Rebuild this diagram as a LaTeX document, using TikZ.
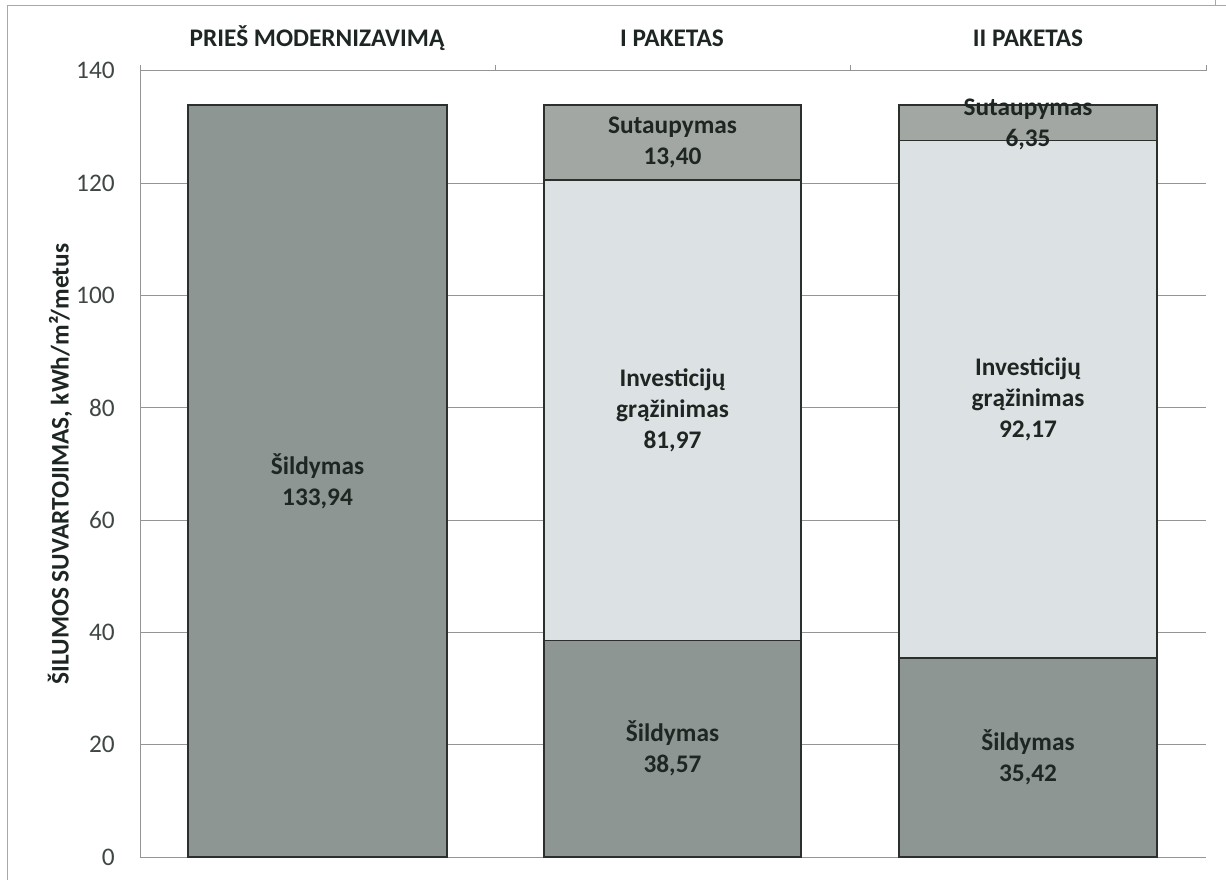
\documentclass[tikz,border=0pt]{standalone}
\usepackage{fontspec}
\setmainfont{Carlito}
\definecolor{heatgray}{HTML}{8E9693}
\definecolor{savegray}{HTML}{A2A7A4}
\definecolor{investgray}{HTML}{DCE1E4}
\definecolor{gridgray}{HTML}{959595}
\definecolor{framegray}{HTML}{A8A8A8}
\definecolor{barline}{HTML}{2B302D}
\definecolor{labelink}{HTML}{1E2622}
\tikzset{
  gridline/.style={draw=gridgray, line width=0.7pt},
  barpart/.style={draw=barline, line width=1pt},
  barlabel/.style={font=\fontsize{18}{22}\selectfont\bfseries, text=labelink, align=center, inner sep=0pt},
  ticklabel/.style={font=\fontsize{18}{22}\selectfont, text=labelink!85, anchor=east, inner sep=0pt},
  header/.style={font=\fontsize{18}{22}\selectfont\bfseries, text=labelink, anchor=base}
}
\begin{document}
\begin{tikzpicture}[x=0.025cm, y=0.025cm]
  \useasboundingbox (0,0) rectangle (1226,880);
  \draw[framegray, line width=0.7pt] (7,0) -- (7,874) -- (1226,874);
  \draw[framegray, line width=0.7pt] (1215,874) -- (1215,880);
  \node[header] (hbefore) at (317,833.5) {PRIEŠ MODERNIZAVIMĄ};
  \node[header] (hfirst) at (672,833.5) {I PAKETAS};
  \node[header] (hsecond) at (1028,833.5) {II PAKETAS};
  \node[barlabel, rotate=90] (ylabel) at (60,416) {ŠILUMOS SUVARTOJIMAS, kWh/m²/metus};
  \begin{scope}[shift={(140,23)}, y=0.14035cm]
    \foreach \v in {0,20,...,140} {
      \draw[gridline] (0,\v) -- (1066,\v);
      \node[ticklabel] (tick\v) at (-25,\v) {\v};
    }
    \draw[gridline] (0,0) -- (0,141.07);
    \foreach \x in {355.3,710.7,1066} \draw[gridline] (\x,140) -- (\x,141.07);
    \draw[barpart, fill=heatgray] (48,0) rectangle (307,133.94);
    \draw[barpart, fill=heatgray] (404,0) rectangle (661,38.57);
    \draw[barpart, fill=investgray] (404,38.57) rectangle (661,120.54);
    \draw[barpart, fill=savegray] (404,120.54) rectangle (661,133.94);
    \draw[barpart, fill=heatgray] (759,0) rectangle (1017,35.42);
    \draw[barpart, fill=investgray] (759,35.42) rectangle (1017,127.59);
    \draw[barpart, fill=savegray] (759,127.59) rectangle (1017,133.94);
    \node[barlabel] (heatbefore) at (177.5,66.97) {Šildymas\\133,94};
    \node[barlabel] (heatfirst) at (532.5,19.29) {Šildymas\\38,57};
    \node[barlabel] (investfirst) at (532.5,79.56) {Investicijų\\grąžinimas\\81,97};
    \node[barlabel] (savefirst) at (532.5,127.24) {Sutaupymas\\13,40};
    \node[barlabel] (heatsecond) at (888,17.71) {Šildymas\\35,42};
    \node[barlabel] (investsecond) at (888,81.51) {Investicijų\\grąžinimas\\92,17};
    \node[barlabel] (savesecond) at (888,130.4) {Sutaupymas\\6,35};
  \end{scope}
\end{tikzpicture}
\end{document}
